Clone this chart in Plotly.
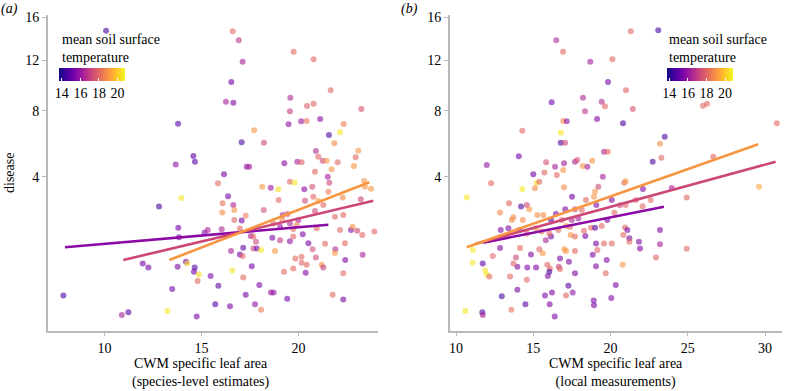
import numpy as np
import plotly.graph_objects as go

# ---------------- data: panel (a) species-level SLA ----------------
sla_a = [10.08, 16.61, 16.92, 19.75, 20.78, 17.12, 16.54, 21.66, 16.26, 16.64,
         19.58, 20.44, 20.78, 23.24, 19.56, 13.79, 19.49, 20.14, 20.42, 21.12,
         22.33, 17.71, 21.57, 22.14, 18.22, 17.07, 21.85, 14.58, 14.66, 13.67,
         17.33, 17.46, 19.27, 19.94, 20.16, 20.90, 21.02, 21.25, 21.45, 22.02,
         22.95, 22.86, 23.08, 16.16, 15.85, 20.85, 21.71, 21.51, 21.59, 19.56,
         19.80, 18.13, 18.57, 18.96, 20.30, 20.71, 21.54, 13.96, 12.81, 16.37,
         16.09, 16.64, 16.07, 16.69, 17.28, 16.69, 17.07, 18.98, 18.21, 20.34,
         20.76, 21.02, 21.28, 20.85, 22.28, 21.88, 22.31, 19.19, 19.44, 19.99,
         19.16, 18.70, 19.56, 19.91, 19.05, 19.73, 13.80, 13.84, 15.16, 15.32,
         16.04, 16.98, 17.54, 17.67, 17.81, 18.65, 19.05, 19.56, 19.73, 20.22,
         20.94, 20.51, 20.73, 21.37, 22.14, 22.71, 22.40, 21.90, 21.88, 16.52,
         17.15, 16.98, 17.12, 17.67, 17.85, 18.07, 18.79, 19.84, 20.16, 20.42,
         20.90, 21.20, 21.28, 22.41, 20.16, 17.59, 11.97, 12.26, 13.77, 14.20,
         14.27, 14.65, 14.61, 14.86, 14.80, 15.47, 16.59, 17.15, 19.25, 19.73,
         20.37, 22.31, 13.49, 15.87, 17.98, 18.58, 18.72, 17.28, 19.42, 21.76,
         22.31, 7.88, 10.89, 11.23, 13.24, 14.75, 15.71, 16.47, 17.76, 18.07,
         23.39, 23.43, 23.74, 23.21, 22.79, 23.03, 23.29, 23.91, 23.31]
disease_a = [14.68, 14.63, 13.77, 12.73, 12.06, 11.85, 10.16, 9.51, 8.65, 8.58,
             8.95, 8.34, 8.50, 8.12, 7.96, 7.10, 7.06, 7.26, 7.28, 7.42,
             7.08, 6.67, 6.37, 6.54, 5.89, 5.91, 5.85, 5.11, 4.79, 4.63,
             4.52, 4.52, 4.70, 4.79, 4.76, 5.39, 5.07, 4.84, 4.84, 4.76,
             5.03, 4.55, 5.41, 4.12, 3.68, 4.25, 4.38, 4.00, 3.70, 3.75,
             3.70, 3.51, 3.47, 3.39, 3.39, 3.51, 3.28, 3.00, 2.64, 3.08,
             2.78, 2.71, 2.41, 2.50, 2.28, 2.12, 2.10, 2.92, 2.50, 2.89,
             3.06, 2.87, 2.71, 2.46, 3.02, 2.24, 2.31, 2.31, 2.35, 2.12,
             2.12, 2.00, 2.00, 1.94, 1.88, 1.81, 1.85, 1.54, 1.68, 1.77,
             1.80, 1.82, 1.58, 1.56, 1.40, 1.52, 1.45, 1.42, 1.56, 1.63,
             1.83, 1.36, 1.19, 1.34, 1.77, 1.77, 1.36, 1.19, 1.09, 1.14,
             1.23, 1.05, 1.01, 1.21, 1.21, 1.17, 1.14, 0.95, 0.99, 0.80,
             0.97, 0.80, 0.74, 0.91, 0.85, 0.77, 0.83, 0.74, 0.76, 0.87,
             0.83, 0.74, 0.65, 0.60, 0.48, 0.57, 0.68, 0.54, 0.65, 0.72,
             0.63, 0.62, 0.35, 0.40, 0.41, 0.30, 0.30, 0.27, 0.22, 0.27,
             0.21, 0.26, 0.07, 0.09, 0.10, 0.06, 0.16, 0.14, 0.16, 0.11,
             3.79, 3.51, 3.42, 2.95, 1.88, 1.75, 1.61, 1.72, 1.04]
temp_a = [14.5, 18.0, 16.8, 18.0, 18.0, 16.3, 15.3, 18.0, 16.3, 15.5,
          16.5, 17.8, 18.0, 17.5, 17.0, 14.7, 15.8, 16.0, 18.3, 15.7,
          18.5, 19.0, 14.5, 20.5, 17.3, 14.5, 18.8, 14.8, 14.8, 15.8,
          15.8, 16.2, 15.6, 16.3, 17.8, 16.5, 18.0, 17.3, 19.0, 18.0,
          18.0, 19.0, 19.0, 15.3, 18.0, 18.0, 19.0, 16.2, 17.3, 18.0,
          20.5, 19.0, 16.0, 20.3, 15.7, 17.5, 18.5, 20.5, 14.5, 15.3,
          18.2, 16.3, 18.8, 19.0, 18.5, 18.0, 15.3, 18.0, 17.5, 17.3,
          18.0, 19.0, 18.0, 17.3, 18.8, 18.0, 18.0, 16.5, 17.3, 16.3,
          18.8, 18.0, 16.5, 18.5, 16.0, 18.0, 15.3, 15.3, 15.5, 16.3,
          16.5, 18.0, 16.3, 18.0, 17.3, 15.5, 16.8, 15.8, 18.0, 15.5,
          18.0, 15.5, 17.5, 18.0, 18.0, 15.5, 18.0, 16.5, 19.0, 16.3,
          15.0, 15.3, 18.0, 17.3, 15.3, 20.5, 19.0, 18.0, 18.0, 18.0,
          17.3, 19.0, 17.0, 15.5, 18.0, 15.3, 15.3, 15.3, 15.5, 15.3,
          20.3, 14.8, 15.3, 20.3, 18.0, 15.5, 20.5, 18.0, 18.0, 18.0,
          15.5, 18.0, 15.3, 15.0, 15.5, 16.0, 15.8, 15.3, 15.3, 18.0,
          15.5, 14.5, 16.3, 14.7, 20.5, 15.5, 14.8, 15.5, 15.8, 18.5,
          19.0, 19.0, 19.0, 17.3, 19.0, 17.3, 18.0, 18.0, 16.3]

# ---------------- data: panel (b) local SLA measurements ----------------
sla_b = [16.49, 16.93, 21.31, 23.09, 18.69, 20.12, 19.84, 21.00, 16.19, 18.22,
         19.43, 19.64, 21.44, 18.35, 25.99, 26.25, 30.76, 16.94, 17.17, 19.13,
         20.81, 14.29, 16.78, 16.78, 17.06, 23.51, 23.20, 23.29, 22.73, 26.65,
         29.61, 24.93, 24.93, 14.06, 11.99, 12.27, 10.69, 14.29, 15.00, 15.22,
         15.39, 15.11, 15.72, 15.83, 16.41, 16.52, 16.94, 16.99, 16.99, 17.70,
         17.85, 18.20, 18.50, 18.82, 19.58, 19.82, 19.50, 19.21, 19.00, 18.93,
         20.89, 20.98, 22.10, 23.96, 17.51, 18.41, 20.08, 21.63, 22.60, 20.98,
         22.08, 20.25, 20.61, 19.08, 18.14, 17.70, 17.07, 16.47, 13.43, 12.85,
         14.21, 14.58, 14.74, 15.26, 15.65, 13.61, 13.71, 14.32, 16.15, 16.84,
         17.49, 17.92, 17.12, 17.38, 12.89, 13.39, 14.10, 14.58, 15.18, 15.55,
         16.15, 16.04, 15.81, 16.62, 17.42, 17.70, 18.37, 18.28, 18.74, 19.00,
         19.43, 19.79, 20.94, 21.09, 20.83, 21.22, 21.22, 21.84, 21.91, 23.20,
         23.20, 19.06, 19.58, 20.08, 19.15, 18.85, 19.75, 19.06, 19.69, 20.79,
         22.94, 20.34, 17.70, 17.01, 17.12, 16.73, 17.31, 17.70, 16.65, 16.73,
         15.91, 16.08, 16.04, 15.94, 15.61, 15.39, 14.85, 15.18, 14.61, 13.97,
         13.88, 13.71, 14.14, 13.50, 14.58, 13.97, 12.85, 12.38, 11.73, 11.08,
         11.08, 11.88, 11.99, 12.16, 17.27, 12.96, 15.76, 16.21, 17.12, 17.55,
         20.05, 10.60, 11.70, 11.73, 13.58, 14.49, 16.06, 16.39, 18.91, 18.93]
disease_b = [13.77, 12.73, 14.63, 14.72, 11.85, 12.06, 10.16, 9.51, 8.61, 8.95,
             8.65, 8.31, 8.12, 7.96, 8.36, 8.50, 7.13, 7.28, 7.26, 7.42,
             7.13, 6.64, 6.51, 5.89, 5.89, 6.26, 5.83, 5.01, 4.79, 5.07,
             3.51, 3.03, 1.20, 5.09, 4.61, 3.68, 3.02, 3.39, 4.12, 3.70,
             3.75, 3.44, 4.22, 4.76, 4.52, 4.09, 4.34, 4.70, 3.49, 4.79,
             4.88, 4.55, 4.52, 4.84, 5.35, 5.35, 4.00, 3.51, 3.28, 3.06,
             3.70, 3.77, 3.41, 3.45, 3.06, 2.92, 2.92, 2.92, 2.92, 2.71,
             2.66, 2.40, 2.70, 2.71, 2.50, 2.53, 2.53, 2.35, 2.78, 2.41,
             2.64, 2.71, 2.53, 2.31, 2.31, 2.12, 2.22, 2.12, 2.12, 2.12,
             2.12, 2.18, 1.91, 1.88, 1.77, 1.83, 1.77, 1.66, 1.83, 1.72,
             1.56, 1.66, 1.45, 1.77, 1.61, 1.56, 1.58, 1.75, 1.85, 1.85,
             1.91, 2.12, 1.86, 1.77, 1.61, 1.51, 1.40, 1.40, 1.21, 1.77,
             1.33, 1.35, 1.35, 1.35, 1.17, 1.04, 0.91, 0.77, 0.62, 0.80,
             0.97, 0.41, 1.14, 1.19, 1.14, 0.95, 0.87, 0.62, 0.76, 0.71,
             0.80, 0.72, 0.65, 0.57, 1.08, 1.19, 1.05, 0.74, 0.74, 0.76,
             0.97, 0.83, 1.22, 0.56, 0.50, 0.34, 1.22, 1.01, 0.83, 1.17,
             0.85, 0.68, 0.60, 0.56, 0.40, 0.25, 0.26, 0.30, 0.26, 0.30,
             0.23, 0.10, 0.09, 0.07, 0.11, 0.16, 0.16, 0.06, 0.20, 0.15]
temp_b = [16.5, 18.0, 18.0, 14.5, 16.2, 18.0, 15.3, 18.0, 15.3, 16.5,
          16.5, 18.0, 17.5, 16.8, 18.0, 18.0, 18.0, 18.8, 15.8, 15.5,
          14.5, 18.0, 20.5, 14.5, 17.3, 14.5, 18.8, 18.0, 14.5, 18.0,
          19.3, 18.0, 18.0, 15.3, 15.8, 18.0, 20.5, 20.5, 15.3, 20.3,
          18.0, 18.8, 18.0, 17.5, 16.3, 18.0, 19.0, 16.2, 18.8, 16.3,
          17.5, 19.0, 16.3, 19.0, 16.3, 18.0, 16.3, 17.3, 19.0, 19.0,
          18.0, 19.0, 15.5, 16.3, 15.3, 18.0, 15.5, 18.0, 18.0, 18.0,
          18.0, 18.0, 17.3, 15.5, 18.0, 17.3, 15.5, 15.3, 18.0, 18.8,
          14.5, 17.3, 19.0, 18.8, 18.8, 18.8, 18.8, 18.8, 14.8, 18.0,
          16.3, 16.3, 19.0, 18.0, 15.5, 15.5, 15.3, 18.0, 18.8, 18.0,
          15.3, 18.0, 16.3, 18.0, 19.0, 18.0, 15.5, 18.0, 18.0, 14.8,
          18.0, 15.5, 18.0, 15.5, 18.0, 15.5, 18.0, 15.5, 15.5, 15.5,
          16.3, 15.5, 18.0, 18.0, 18.0, 15.5, 15.5, 15.5, 18.0, 19.0,
          18.0, 15.5, 18.0, 19.0, 19.0, 15.5, 15.5, 15.5, 17.0, 18.0,
          18.0, 18.0, 14.5, 15.5, 19.0, 18.0, 15.5, 15.5, 15.5, 15.5,
          17.3, 18.0, 18.0, 18.0, 18.0, 15.5, 15.5, 18.0, 14.8, 20.5,
          20.5, 20.5, 20.5, 18.0, 14.8, 14.5, 15.5, 15.5, 18.0, 15.8,
          15.5, 20.5, 14.5, 16.3, 18.3, 14.8, 15.5, 15.5, 15.5, 15.5]

# fitted lines (sqrt(disease) = intercept + slope * SLA) at low / mid / high temperature
fit_colors = ["#8b0aa5", "#cc4778", "#f89540"]
fit_a_intercept = [0.948, 0.322, -0.307]
fit_a_slope = [0.0209, 0.0577, 0.0946]
fit_a_xmin = [7.96, 10.97, 13.34]
fit_a_xmax = [21.54, 23.86, 23.65]
fit_b_intercept = [0.718, 0.561, 0.382]
fit_b_slope = [0.0386, 0.0530, 0.0685]
fit_b_xmin = [11.75, 11.23, 10.69]
fit_b_xmax = [23.46, 30.69, 29.56]

y_ticks = [4, 8, 12, 16]
x_ticks_a = [10, 15, 20]
x_ticks_b = [10, 15, 20, 25, 30]
cbar_ticks = [14, 16, 18, 20]

W, H = 792, 391
FONT = "Liberation Serif, Times New Roman, DejaVu Serif, serif"
AXIS_GREY = "rgb(185,185,185)"


def fx(p):
    return p / W


def fy(p):
    return 1 - p / H


fig = go.Figure()

fig.add_trace(go.Scatter(
    x=sla_a, y=np.sqrt(disease_a), mode="markers", xaxis="x", yaxis="y",
    marker=dict(size=6, color=temp_a, coloraxis="coloraxis", opacity=0.6, line=dict(width=0)),
    showlegend=False, hoverinfo="skip"))
fig.add_trace(go.Scatter(
    x=sla_b, y=np.sqrt(disease_b), mode="markers", xaxis="x2", yaxis="y2",
    marker=dict(size=6, color=temp_b, coloraxis="coloraxis2", opacity=0.6, line=dict(width=0)),
    showlegend=False, hoverinfo="skip"))

for i in range(3):
    xs = np.array([fit_a_xmin[i], fit_a_xmax[i]])
    fig.add_trace(go.Scatter(x=xs, y=fit_a_intercept[i] + fit_a_slope[i] * xs, mode="lines",
                             xaxis="x", yaxis="y", line=dict(color=fit_colors[i], width=2.6),
                             showlegend=False, hoverinfo="skip"))
    xs = np.array([fit_b_xmin[i], fit_b_xmax[i]])
    fig.add_trace(go.Scatter(x=xs, y=fit_b_intercept[i] + fit_b_slope[i] * xs, mode="lines",
                             xaxis="x2", yaxis="y2", line=dict(color=fit_colors[i], width=2.6),
                             showlegend=False, hoverinfo="skip"))

tickfont = dict(family=FONT, size=14, color="black")
yrange = [0.068, 4.029]
ydom = [fy(330.7), fy(15)]


def xaxis_style(dom, rng, ticks, anchor):
    return dict(domain=dom, range=rng, tickvals=ticks, showline=True, linecolor=AXIS_GREY,
                linewidth=1.5, ticks="outside", ticklen=4, tickcolor=AXIS_GREY, tickwidth=1,
                showgrid=False, zeroline=False, tickfont=tickfont, anchor=anchor,
                automargin=False)


def yaxis_style(anchor):
    return dict(domain=ydom, range=yrange, tickvals=list(np.sqrt(y_ticks)),
                ticktext=[str(v) for v in y_ticks], showline=True, linecolor=AXIS_GREY,
                linewidth=1.5, ticks="outside", ticklen=4, tickcolor=AXIS_GREY, tickwidth=1,
                showgrid=False, zeroline=False, tickfont=tickfont, anchor=anchor,
                automargin=False)


def cbar(xc):
    return dict(orientation="h", x=fx(xc), xanchor="center", y=fy(68), yanchor="top",
                len=66, lenmode="pixels", thickness=13, thicknessmode="pixels",
                xpad=0, ypad=0, outlinewidth=0, tickvals=cbar_ticks, ticks="inside",
                ticklen=3, tickcolor="white", tickfont=tickfont)


fig.update_layout(
    width=W, height=H, margin=dict(l=0, r=0, t=0, b=0, pad=0, autoexpand=False),
    plot_bgcolor="white", paper_bgcolor="white",
    font=dict(family=FONT, size=14, color="black"),
    xaxis=xaxis_style([fx(47.7), fx(378)], [7.07, 24.1], x_ticks_a, "y"),
    yaxis=yaxis_style("x"),
    xaxis2=xaxis_style([fx(449.7), fx(782)], [9.59, 31.1], x_ticks_b, "y2"),
    yaxis2=yaxis_style("x2"),
    coloraxis=dict(colorscale="Plasma", cmin=13.7, cmax=20.8, colorbar=cbar(92)),
    coloraxis2=dict(colorscale="Plasma", cmin=13.7, cmax=20.8, colorbar=cbar(699.5)),
)

ann = []
ann.append(dict(text="<i>(a)</i>", x=fx(9), y=fy(9), xanchor="center", yanchor="middle"))
ann.append(dict(text="<i>(b)</i>", x=fx(409), y=fy(9), xanchor="center", yanchor="middle"))
ann.append(dict(text="disease", x=fx(10), y=fy(173), textangle=-90,
                xanchor="center", yanchor="middle"))
ann.append(dict(text="CWM specific leaf area<br>(species-level estimates)", x=fx(201), y=fy(373),
                xanchor="center", yanchor="middle"))
ann.append(dict(text="CWM specific leaf area<br>(local measurements)", x=fx(616), y=fy(373),
                xanchor="center", yanchor="middle"))
ann.append(dict(text="mean soil surface<br>temperature", x=fx(60), y=fy(48), xanchor="left",
                yanchor="middle", align="left"))
ann.append(dict(text="mean soil surface<br>temperature", x=fx(667), y=fy(48), xanchor="left",
                yanchor="middle", align="left"))
for a in ann:
    a.update(xref="paper", yref="paper", showarrow=False,
             font=dict(family=FONT, size=14, color="black"))
fig.update_layout(annotations=ann)

# remove the browser's default 8px page margin so the figure fills the window exactly
fig.write_html("out.html", config={"displayModeBar": False},
               post_script="document.body.style.margin='0';document.body.style.overflow='hidden';")
